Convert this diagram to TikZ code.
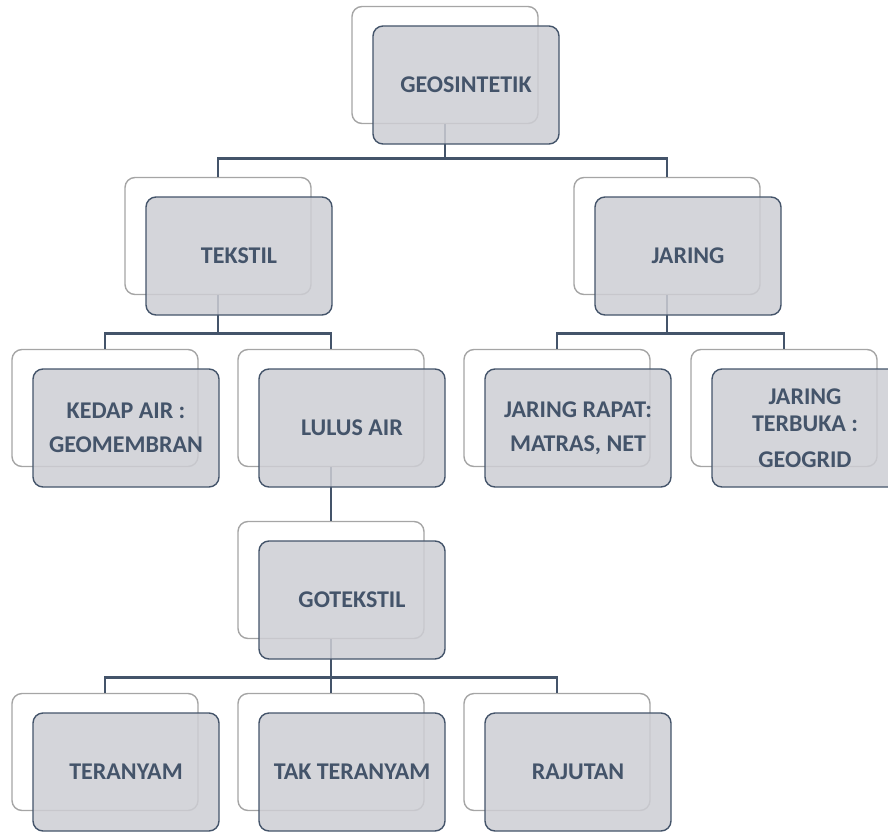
\documentclass[tikz,border=0pt]{standalone}
\usepackage{fontspec}
\setmainfont{Carlito}
\definecolor{inkblue}{RGB}{68,84,106}
\definecolor{boxgray}{RGB}{205,206,212}
\definecolor{backline}{RGB}{165,165,165}
\tikzset{
  backbox/.style={rectangle,rounded corners=10pt,draw=backline,line width=1.4pt,
    fill=white,minimum width=186pt,minimum height=117pt},
  frontbox/.style={rectangle,rounded corners=10pt,draw=inkblue,line width=1.4pt,
    fill=boxgray,fill opacity=0.85,text opacity=1,minimum width=186pt,
    minimum height=118pt,inner sep=2pt,xshift=21pt,yshift=-20pt,align=center,
    text=inkblue,font=\fontsize{24}{27}\selectfont\bfseries},
  link/.style={draw=inkblue,line width=2.6pt}
}
\begin{document}
\begin{tikzpicture}[x=1pt,y=-1pt]
\useasboundingbox (0,0) rectangle (888,832);

% boxes behind
\node[backbox] (geoB) at (445,65) {};
\node[backbox] (tekB) at (218,236) {};
\node[backbox] (jarB) at (667,236) {};
\node[backbox] (kedapB) at (105,408) {};
\node[backbox] (lulusB) at (331,408) {};
\node[backbox] (rapatB) at (557,408) {};
\node[backbox] (bukaB) at (784,408) {};
\node[backbox] (gotekB) at (331,580) {};
\node[backbox] (anyamB) at (105,752) {};
\node[backbox] (takB) at (331,752) {};
\node[backbox] (rajutB) at (557,752) {};

% connectors
\draw[link] (geoB.south) -- ++(0,34) -| (tekB.north);
\draw[link] (geoB.south) -- ++(0,34) -| (jarB.north);
\draw[link] (tekB.south) -- ++(0,38) -| (kedapB.north);
\draw[link] (tekB.south) -- ++(0,38) -| (lulusB.north);
\draw[link] (jarB.south) -- ++(0,38) -| (rapatB.north);
\draw[link] (jarB.south) -- ++(0,38) -| (bukaB.north);
\draw[link] (lulusB.south) -- (gotekB.north);
\draw[link] (gotekB.south) -- ++(0,38) -| (anyamB.north);
\draw[link] (gotekB.south) -- ++(0,38) -| (takB.north);
\draw[link] (gotekB.south) -- ++(0,38) -| (rajutB.north);

% boxes in front
\node[frontbox] (geo) at (geoB) {GEOSINTETIK};
\node[frontbox] (tek) at (tekB) {TEKSTIL};
\node[frontbox] (jar) at (jarB) {JARING};
\node[frontbox] (kedap) at (kedapB) {KEDAP AIR :\\[7pt]GEOMEMBRAN};
\node[frontbox] (lulus) at (lulusB) {LULUS AIR};
\node[frontbox] (rapat) at (rapatB) {JARING RAPAT:\\[7pt]MATRAS, NET};
\node[frontbox] (buka) at (bukaB) {JARING\\TERBUKA :\\[9pt]GEOGRID};
\node[frontbox] (gotek) at (gotekB) {GOTEKSTIL};
\node[frontbox] (anyam) at (anyamB) {TERANYAM};
\node[frontbox] (tak) at (takB) {TAK TERANYAM};
\node[frontbox] (rajut) at (rajutB) {RAJUTAN};
\end{tikzpicture}
\end{document}
